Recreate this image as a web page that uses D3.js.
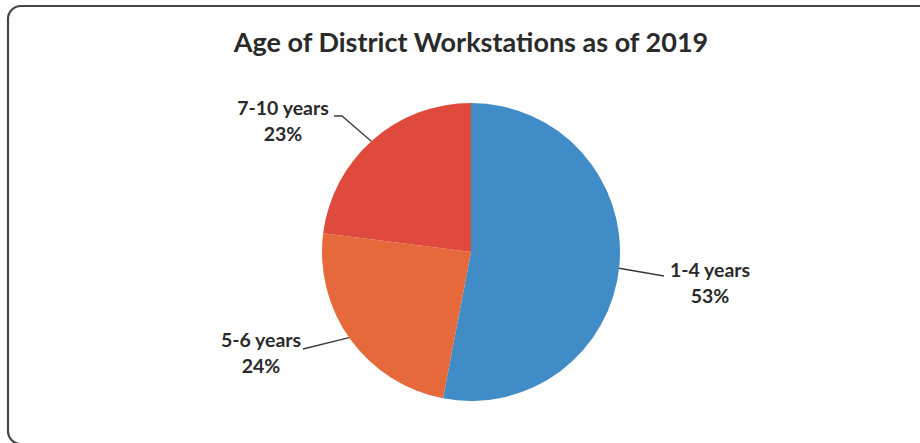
<!DOCTYPE html>
<html><head><meta charset="utf-8">
<script src="https://cdn.jsdelivr.net/npm/d3@7"></script>
<style>html,body{margin:0;padding:0;background:#fff;}svg{display:block;}</style>
</head><body>
<svg id="chart" width="920" height="443"></svg>
<script>
const title = "Age of District Workstations as of 2019";
const categories = ["1-4 years", "5-6 years", "7-10 years"];
const values = [53, 24, 23];
const colors = ["#3f8cc6", "#e5693a", "#e04a3c"];

const svg = d3.select("#chart");
svg.append("rect").attr("x", 8).attr("y", 6).attr("width", 940).attr("height", 438)
  .attr("rx", 13).attr("fill", "#fff").attr("stroke", "#444").attr("stroke-width", 2.2);

svg.append("text").attr("x", 471).attr("y", 52).attr("text-anchor", "middle")
  .attr("font-family", "Lato, 'Open Sans', sans-serif").attr("font-weight", "bold")
  .attr("font-size", 27).attr("fill", "#2a2a2a").text(title);

const cx = 471, cy = 252, r = 149;
const data = categories.map((c, i) => ({cat: c, value: values[i], color: colors[i]}));
const pie = d3.pie().value(d => d.value).sort(null);
const arc = d3.arc().innerRadius(0).outerRadius(r);
const arcs = pie(data);
const g = svg.append("g").attr("transform", `translate(${cx},${cy})`);
g.selectAll("path").data(arcs).enter().append("path")
  .attr("d", arc).attr("fill", d => d.data.color);

const labelPos = {
  "1-4 years": {x: 710, y: 277, lineEnd: [664, 276], mid: null},
  "5-6 years": {x: 261, y: 347, lineEnd: [303, 349], mid: null},
  "7-10 years": {x: 283, y: 115, lineEnd: [334, 116], mid: [342, 116]}
};
const edgeAngles = {"1-4 years": 1.68, "5-6 years": 4.1, "7-10 years": 5.55};
arcs.forEach(a => {
  const lp = labelPos[a.data.cat];
  const ang = edgeAngles[a.data.cat];
  const ex = cx + Math.sin(ang) * r, ey = cy - Math.cos(ang) * r;
  const pts = [[ex, ey]];
  if (lp.mid) pts.push(lp.mid);
  pts.push(lp.lineEnd);
  svg.append("path").attr("d", d3.line()(pts)).attr("fill", "none")
    .attr("stroke", "#3a3a3a").attr("stroke-width", 1.3);
  const t = svg.append("text").attr("text-anchor", "middle")
    .attr("font-family", "Lato, 'Open Sans', sans-serif").attr("font-weight", "bold")
    .attr("font-size", 19.5).attr("fill", "#2a2a2a");
  t.append("tspan").attr("x", lp.x).attr("y", lp.y).text(a.data.cat);
  t.append("tspan").attr("x", lp.x).attr("y", lp.y + 26).text(Math.round(a.data.value) + "%");
});
</script>
</body></html>
